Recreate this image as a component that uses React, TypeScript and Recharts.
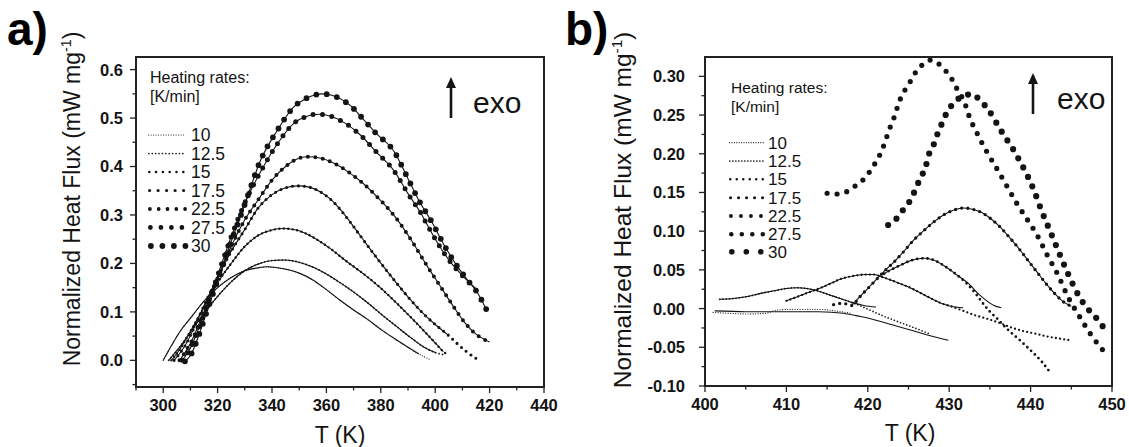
import React from "react";
import { LineChart, Line, XAxis, YAxis } from "recharts";

type Pt = [number, number]; // [T in K, heat flux in mW/mg]

const rates = ["10", "12.5", "15", "17.5", "22.5", "27.5", "30"];

// ---- panel a) ----
const a10: Pt[] = [[300, 0], [303, 0.03], [306, 0.058], [310, 0.087], [315, 0.122], [320, 0.15], [325, 0.171], [330, 0.185], [335, 0.191], [338, 0.193], [342, 0.191], [346, 0.187], [350, 0.18], [355, 0.166], [360, 0.146], [365, 0.124], [370, 0.104], [375, 0.085], [380, 0.064], [385, 0.045], [390, 0.027], [394, 0.013], [398, 0.002]];
const a12_5: Pt[] = [[302, 0], [305, 0.02], [310, 0.058], [315, 0.097], [320, 0.132], [325, 0.162], [330, 0.185], [335, 0.199], [340, 0.206], [344, 0.207], [348, 0.205], [352, 0.199], [356, 0.19], [360, 0.178], [364, 0.164], [368, 0.149], [374, 0.124], [380, 0.096], [386, 0.069], [391, 0.047], [396, 0.027], [400, 0.016], [403, 0.012]];
const a15: Pt[] = [[303, 0], [306, 0.022], [310, 0.06], [315, 0.11], [320, 0.16], [325, 0.2], [330, 0.235], [335, 0.258], [340, 0.269], [344, 0.272], [348, 0.27], [352, 0.263], [356, 0.251], [361.6, 0.23], [367, 0.206], [374, 0.177], [380, 0.149], [386, 0.117], [391, 0.089], [396, 0.06], [400, 0.036], [403, 0.018], [405, 0.01]];
const a17_5: Pt[] = [[304, 0], [308, 0.03], [312, 0.075], [316, 0.125], [320, 0.17], [325, 0.225], [330, 0.27], [335, 0.315], [340, 0.342], [345, 0.356], [349.5, 0.36], [354, 0.357], [358, 0.347], [362, 0.33], [365, 0.312], [368, 0.291], [373, 0.253], [379, 0.208], [385, 0.165], [390, 0.131], [395, 0.1], [400, 0.074], [404.6, 0.053], [408, 0.035], [411.5, 0.018], [415, 0.004]];
const a22_5: Pt[] = [[306, 0], [310, 0.035], [315, 0.1], [320, 0.17], [325, 0.235], [330, 0.29], [335, 0.332], [340, 0.372], [345, 0.4], [349, 0.415], [353, 0.42], [358, 0.417], [363, 0.406], [368, 0.389], [372.7, 0.369], [378, 0.341], [385, 0.298], [391, 0.25], [397, 0.195], [402, 0.152], [406, 0.117], [411, 0.077], [415, 0.054], [420, 0.038]];
const a27_5: Pt[] = [[307, 0], [310, 0.025], [313, 0.065], [316, 0.11], [320, 0.175], [325, 0.255], [330, 0.325], [335.8, 0.389], [342, 0.447], [348, 0.489], [352, 0.502], [357, 0.508], [362, 0.503], [367, 0.489], [372.7, 0.464], [378, 0.432], [385, 0.39], [390, 0.344], [394.8, 0.303], [398, 0.27], [402, 0.232], [406, 0.2], [410, 0.175], [415, 0.148]];
const a30: Pt[] = [[308, -0.002], [310, 0.01], [313, 0.05], [316, 0.1], [320, 0.165], [325, 0.245], [330, 0.322], [335.8, 0.413], [342, 0.475], [348, 0.523], [352, 0.539], [356, 0.548], [358.5, 0.55], [362, 0.547], [366, 0.537], [369, 0.525], [372.7, 0.503], [378, 0.47], [385, 0.43], [390, 0.375], [394, 0.33], [398.4, 0.289], [404.6, 0.225], [408, 0.195], [412, 0.165], [415.7, 0.138], [418.8, 0.105]];
// last T covered by the solid fit line
const fitEndA = [394, 401, 403, 404.6, 420, 415, 418.8];

// ---- panel b) ----
const b10Data: Pt[] = [[401, -0.005], [403, -0.006], [405, -0.007], [407.5, -0.006], [408.8, -0.002], [411, -0.001], [414, -0.001], [416, -0.003], [418, -0.006]];
const b10Fit: Pt[] = [[401.2, -0.003], [405, -0.004], [410, -0.004], [414, -0.004], [417, -0.006], [419, -0.01], [421, -0.015], [423, -0.021], [425, -0.027], [427.3, -0.034], [429.9, -0.041]];
const b12_5Data: Pt[] = [[401.8, 0.012], [403.5, 0.013], [405.4, 0.016], [407, 0.02], [408.5, 0.023], [410, 0.026], [411.3, 0.027], [412.5, 0.026], [413.8, 0.023], [415.2, 0.018], [416.6, 0.013], [418, 0.008], [419.2, 0.003], [420.5, -0.003], [422, -0.01], [423.5, -0.016], [425, -0.022], [426.5, -0.028], [427.7, -0.033]];
const b12_5Fit: Pt[] = [[401.8, 0.012], [403.5, 0.013], [405.4, 0.016], [407, 0.02], [408.5, 0.023], [410, 0.026], [411.3, 0.027], [412.5, 0.026], [413.8, 0.023], [415.2, 0.018], [416.6, 0.013], [418, 0.008], [419.5, 0.004], [421, 0.002]];
const b15Data: Pt[] = [[410, 0.01], [411.3, 0.015], [412.5, 0.02], [413.5, 0.024], [414.5, 0.028], [415.6, 0.033], [416.6, 0.038], [417.7, 0.041], [418.7, 0.043], [419.7, 0.044], [420.7, 0.044], [421.7, 0.041], [422.8, 0.037], [424, 0.032], [425.2, 0.027], [426.5, 0.02], [427.8, 0.013], [429, 0.007], [430.2, 0.003], [431.5, -0.002], [433, -0.008], [434.6, -0.013], [436.3, -0.019], [437.5, -0.024], [438.7, -0.028], [440.4, -0.032], [442, -0.036], [443.7, -0.039], [444.9, -0.041]];
const b15Fit: Pt[] = [[410, 0.01], [412.5, 0.02], [414.5, 0.028], [416.6, 0.038], [418.7, 0.043], [419.7, 0.044], [420.7, 0.044], [421.7, 0.041], [422.8, 0.037], [424, 0.032], [425.2, 0.027], [426.5, 0.02], [427.8, 0.013], [429, 0.007], [430.2, 0.003], [431.7, 0.001]];
const b17_5Data: Pt[] = [[422, 0.045], [423, 0.051], [424, 0.056], [425, 0.061], [426, 0.064], [427, 0.065], [428, 0.063], [429.7, 0.053], [431, 0.043], [432.2, 0.032], [433.2, 0.02], [434.2, 0.006], [435, -0.004], [435.9, -0.013], [436.7, -0.022], [437.5, -0.03], [438.7, -0.041], [439.8, -0.052], [440.6, -0.06], [441.4, -0.069], [442.5, -0.084]];
const b17_5Fit: Pt[] = [[422, 0.045], [423, 0.051], [424, 0.056], [425, 0.061], [426, 0.064], [427, 0.065], [428, 0.063], [429.7, 0.053], [431, 0.043], [432.2, 0.034], [433.8, 0.017], [435.5, 0.004], [436.4, 0.001]];
const b22_5Data: Pt[] = [[415.8, 0.005], [416.9, 0.007], [418, 0.004], [419, 0.015], [420, 0.026], [421, 0.037], [422, 0.048], [423.2, 0.06], [424.6, 0.076], [425.5, 0.087], [426.8, 0.1], [428, 0.111], [429, 0.119], [430.5, 0.127], [431.8, 0.13], [433, 0.128], [434, 0.124], [435, 0.117], [436.2, 0.106], [437.4, 0.092], [438.6, 0.077], [439.7, 0.062], [440.8, 0.047], [442, 0.031], [443, 0.019], [444, 0.009], [445, 0.003]];
const b22_5Fit: Pt[] = [[418, 0.004], [419, 0.015], [420, 0.026], [421, 0.037], [422, 0.048], [423.2, 0.06], [424.6, 0.076], [425.5, 0.087], [426.8, 0.1], [428, 0.111], [429, 0.119], [430.5, 0.127], [431.8, 0.13], [433, 0.128], [434, 0.124], [435, 0.117], [436.2, 0.106], [437.4, 0.092], [438.6, 0.077], [439.7, 0.062], [440.8, 0.047], [442, 0.031], [443, 0.019], [444, 0.009], [445, 0.003]];
const b27_5Data: Pt[] = [[415, 0.149], [416.2, 0.148], [417.4, 0.151], [418.4, 0.158], [419.3, 0.165], [420.1, 0.175], [420.8, 0.186], [421.4, 0.197], [421.9, 0.209], [422.3, 0.221], [422.7, 0.233], [423.2, 0.246], [423.6, 0.259], [424, 0.271], [424.6, 0.283], [425.2, 0.293], [425.8, 0.304], [426.6, 0.314], [427.7, 0.321], [428.6, 0.317], [429.5, 0.308], [430.3, 0.297], [430.9, 0.285], [432, 0.263], [432.4, 0.25], [433.4, 0.227], [434.6, 0.203], [435.9, 0.18], [437.1, 0.158], [438.3, 0.136], [439.6, 0.115], [440.8, 0.095], [442, 0.07], [443.3, 0.045], [444.6, 0.015], [446, -0.01], [447.5, -0.035], [449.4, -0.06]];
const b30Data: Pt[] = [[422.5, 0.108], [423.6, 0.117], [424.5, 0.13], [425.4, 0.143], [426, 0.158], [426.6, 0.171], [427.1, 0.183], [427.5, 0.199], [428.1, 0.212], [428.5, 0.224], [429.1, 0.239], [429.7, 0.253], [430.5, 0.265], [431.6, 0.274], [432.8, 0.277], [433.8, 0.269], [434.8, 0.257], [436.3, 0.231], [437.1, 0.218], [437.9, 0.205], [438.7, 0.19], [439.6, 0.172], [440.4, 0.153], [441.4, 0.125], [442.4, 0.1], [443.5, 0.072], [444.6, 0.045], [446, 0.015], [447.4, -0.005], [448.4, -0.016], [449.4, -0.032]];

const INK = "#141414";
const AXIS = "#222";
const FONT = '"Liberation Sans", Arial, Helvetica, sans-serif';

const range = (from: number, to: number, step: number) =>
  Array.from({ length: Math.round((to - from) / step) + 1 }, (_, i) => +(from + i * step).toFixed(4));

const xTicksA = range(290, 440, 10);
const yTicksA = range(-0.05, 0.6, 0.05);
const xTicksB = range(400, 450, 5);
const yTicksB = range(-0.1, 0.3, 0.025);

// marker look per heating rate (size of the dot, spacing along the curve)
const dotA = [1.2, 1.8, 2.4, 3.1, 4.0, 5.0, 5.8];
const gapA = [2.5, 3.5, 4.5, 6, 7.5, 9.5, 10.5];
const dotB = [1.2, 1.7, 2.3, 2.8, 3.3, 5.2, 6.2];
const gapB = [2.5, 3.3, 4.2, 5.2, 6.2, 10, 10.5];

const rows = (pts: Pt[]) => pts.map(([T, v]) => ({ T, v }));

const seriesA = [a10, a12_5, a15, a17_5, a22_5, a27_5, a30].map((data, i) => ({
  data: rows(data),
  fit: rows(data.filter((p) => p[0] <= fitEndA[i])),
  dot: dotA[i],
  gap: gapA[i],
}));

const seriesB = [
  { data: b10Data, fit: b10Fit },
  { data: b12_5Data, fit: b12_5Fit },
  { data: b15Data, fit: b15Fit },
  { data: b17_5Data, fit: b17_5Fit },
  { data: b22_5Data, fit: b22_5Fit },
  { data: b27_5Data, fit: null },
  { data: b30Data, fit: null },
].map((s, i) => ({ data: rows(s.data), fit: s.fit ? rows(s.fit) : null, dot: dotB[i], gap: gapB[i] }));

function XTick(props: any) {
  const { x, y, payload, majorStep, majorFrom } = props;
  const k = (payload.value - majorFrom) / majorStep;
  const major = Math.abs(k - Math.round(k)) < 1e-6;
  return (
    <g>
      <line x1={x} x2={x} y1={y} y2={y + (major ? 6 : 3.5)} stroke={AXIS} strokeWidth={1.3} />
      {major && (
        <text x={x} y={y + 24} textAnchor="middle" fontSize={16.5} fontWeight="bold" fill={INK} fontFamily={FONT}>
          {payload.value}
        </text>
      )}
    </g>
  );
}

function YTick(props: any) {
  const { x, y, payload, majorStep, decimals, labelGap } = props;
  const k = payload.value / majorStep;
  const major = Math.abs(k - Math.round(k)) < 1e-6;
  return (
    <g>
      <line x1={x} x2={x - (major ? 6 : 3.5)} y1={y} y2={y} stroke={AXIS} strokeWidth={1.3} />
      {major && (
        <text x={x - labelGap} y={y} dy="0.36em" textAnchor="end" fontSize={16.5} fontWeight="bold" fill={INK} fontFamily={FONT}>
          {payload.value.toFixed(decimals)}
        </text>
      )}
    </g>
  );
}

function curves(series: any[], tag: string) {
  return series.map((s, i) => [
    s.fit ? (
      <Line key={tag + "f" + i} data={s.fit} dataKey="v" type="monotone" stroke={INK} strokeWidth={1.1}
        dot={false} activeDot={false} isAnimationActive={false} />
    ) : null,
    <Line key={tag + "d" + i} data={s.data} dataKey="v" type="monotone" stroke={INK} strokeWidth={s.dot}
      strokeDasharray={`0 ${s.gap}`} strokeLinecap="round" dot={false} activeDot={false} isAnimationActive={false} />,
  ]);
}

// legend swatches: dot size, spacing, count
const legA = { dot: [1.2, 1.7, 2.6, 3.2, 3.8, 4.8, 5.8], gap: [2.5, 3.4, 6.8, 8.5, 8.8, 10.5, 11.5], n: [15, 11, 6, 5, 5, 4, 4] };
const legB = { dot: [1.2, 1.7, 2.5, 3.1, 3.9, 4.6, 5.6], gap: [2.4, 3, 6.5, 8, 10, 10.5, 14.5], n: [15, 12, 6, 5, 4, 4, 3] };

function Legend({ x, textX, headY, rowsY, leg, size }: any) {
  return (
    <g fontFamily={FONT} fill={INK}>
      <text x={x + 2} y={headY} fontSize={size}>Heating rates:</text>
      <text x={x + 2} y={headY + 19} fontSize={size}>[K/min]</text>
      {rates.map((r, i) => (
        <g key={r}>
          <line x1={x + leg.dot[i] / 2} x2={x + leg.dot[i] / 2 + (leg.n[i] - 1) * leg.gap[i] + 0.1} y1={rowsY[i]} y2={rowsY[i]}
            stroke={INK} strokeWidth={leg.dot[i]} strokeDasharray={`0 ${leg.gap[i]}`} strokeLinecap="round" />
          <text x={textX} y={rowsY[i]} dy="0.36em" fontSize={size + 1.5}>{r}</text>
        </g>
      ))}
    </g>
  );
}

function Exo({ x, y, tx }: any) {
  return (
    <g>
      <line x1={x} x2={x} y1={y + 41} y2={y + 8} stroke={INK} strokeWidth={2.6} />
      <polygon points={`${x},${y} ${x - 5},${y + 11} ${x + 5},${y + 11}`} fill={INK} />
      <text x={tx} y={y + 36} fontSize={30} fontFamily={FONT} fill={INK}>exo</text>
    </g>
  );
}

function YTitle({ x, y, size }: any) {
  return (
    <text transform={`translate(${x},${y}) rotate(-90)`} textAnchor="middle" fontSize={size} fontFamily={FONT} fill={INK}>
      Normalized Heat Flux (mW mg
      <tspan dy={-size * 0.38} fontSize={size * 0.62}>-1</tspan>
      <tspan dy={size * 0.38}>)</tspan>
    </text>
  );
}

// full box around a plot area
function Frame({ left, right, top, bottom }: any) {
  return (
    <rect x={left} y={top} width={right - left} height={bottom - top} fill="none" stroke={AXIS} strokeWidth={2} />
  );
}

export default function App() {
  return (
    <div style={{ position: "absolute", left: 0, top: 0, width: 1129, height: 447, background: "#fff", fontFamily: FONT }}>
      <div style={{ position: "absolute", left: 0, top: 0 }}>
        <LineChart width={560} height={447} margin={{ top: 57, right: 16, bottom: 0, left: 0 }}>
          <XAxis type="number" dataKey="T" domain={[290, 440]} allowDataOverflow ticks={xTicksA} interval={0}
            tickSize={0} tickMargin={0} tickLine={false} tick={<XTick majorStep={20} majorFrom={300} />}
            axisLine={{ stroke: AXIS, strokeWidth: 2 }} height={60} />
          <YAxis type="number" domain={[-0.055, 0.626]} allowDataOverflow ticks={yTicksA} interval={0}
            tickSize={0} tickMargin={0} tickLine={false} tick={<YTick majorStep={0.1} decimals={1} labelGap={13} />}
            axisLine={{ stroke: AXIS, strokeWidth: 2 }} width={136} />
          {curves(seriesA, "a")}
        </LineChart>
      </div>
      <div style={{ position: "absolute", left: 560, top: 0 }}>
        <LineChart width={569} height={447} margin={{ top: 57, right: 17, bottom: 0, left: 0 }}>
          <XAxis type="number" dataKey="T" domain={[400, 450]} allowDataOverflow ticks={xTicksB} interval={0}
            tickSize={0} tickMargin={0} tickLine={false} tick={<XTick majorStep={10} majorFrom={400} />}
            axisLine={{ stroke: AXIS, strokeWidth: 2 }} height={61} />
          <YAxis type="number" domain={[-0.1, 0.325]} allowDataOverflow ticks={yTicksB} interval={0}
            tickSize={0} tickMargin={0} tickLine={false} tick={<YTick majorStep={0.05} decimals={2} labelGap={20} />}
            axisLine={{ stroke: AXIS, strokeWidth: 2 }} width={145} />
          {curves(seriesB, "b")}
        </LineChart>
      </div>
      <svg width={1129} height={447} style={{ position: "absolute", left: 0, top: 0, pointerEvents: "none" }}>
        <Frame left={136} right={544} top={57} bottom={387} />
        <Frame left={705} right={1112} top={57} bottom={386} />
        <text x={7} y={45} fontSize={46} fontWeight="bold" fontFamily={FONT} fill="#000">a)</text>
        <text x={565} y={45} fontSize={46} fontWeight="bold" fontFamily={FONT} fill="#000">b)</text>
        <YTitle x={80} y={199} size={23} />
        <YTitle x={631} y={210} size={24.5} />
        <text x={340} y={443} textAnchor="middle" fontSize={23} fontFamily={FONT} fill={INK}>T (K)</text>
        <text x={910} y={441} textAnchor="middle" fontSize={23} fontFamily={FONT} fill={INK}>T (K)</text>
        <Legend x={148} textX={191} headY={83} rowsY={[135, 153.5, 172, 190.5, 209, 227.5, 246]} leg={legA} size={16} />
        <Legend x={729} textX={768} headY={93} rowsY={[142.7, 161, 179.3, 197.7, 216, 234.3, 251.7]} leg={legB} size={15.5} />
        <Exo x={451} y={77} tx={473} />
        <Exo x={1033} y={73} tx={1057} />
      </svg>
    </div>
  );
}
